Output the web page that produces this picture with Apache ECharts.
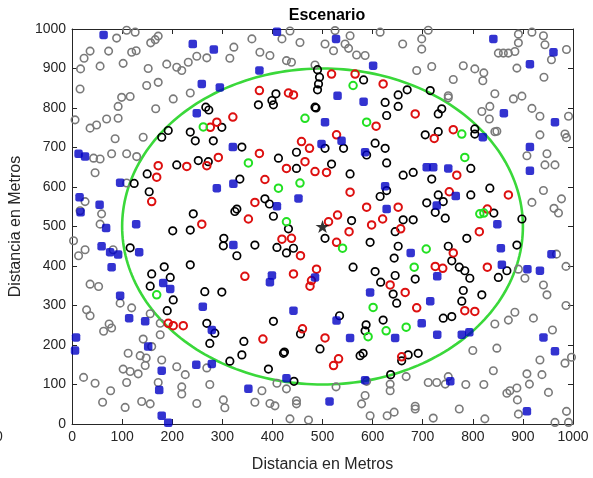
<!DOCTYPE html>
<html>
<head>
<meta charset="utf-8">
<script src="https://cdn.jsdelivr.net/npm/echarts@6/dist/echarts.min.js"></script>
<style>
html,body{margin:0;padding:0;background:#fff;}
#chart{width:593px;height:478px;}
</style>
</head>
<body>
<div id="chart"></div>
<script>
// ---- data ----
var titleText = "Escenario";
var xLabel = "Distancia en Metros";
var yLabel = "Distancia en Metros";
var axisMin = 0, axisMax = 1000, axisStep = 100;

var grayNodes = [
[109,997],[126,992],[89,977],[172,982],[166,973],[157,965],[36,944],[24,926],[73,944],[119,941],[128,945],[17,899],[56,906],[102,913],[152,900],[189,911],[209,903],[219,895],[232,916],[249,931],[269,927],[315,926],[323,954],[16,848],[172,865],[149,857],[99,827],[116,829],[92,804],[202,823],[236,838],[167,798],[6,770],[36,749],[49,757],[69,772],[92,774],[86,722],[142,726],[79,684],[109,684],[129,677],[43,673],[56,671],
[435,995],[359,975],[419,975],[455,966],[505,962],[525,996],[555,983],[545,962],[552,951],[568,934],[585,933],[522,945],[615,992],[375,941],[395,933],[428,920],[438,916],[485,909],
[711,997],[660,962],[698,975],[698,949],[688,895],[718,905],[781,907],[804,899],[822,889],[820,869],[761,872],[751,831],[751,826],[844,836],[881,823],[898,830],[834,804],[818,791],[833,772],[844,740],[848,741],[918,799],[934,779],[991,779],[984,734],[987,725],[934,732],[908,679],[948,684],[891,987],[918,992],[941,983],[944,960],[891,965],[884,943],[851,939],[861,939],[871,939],[987,948],[957,922],[888,901],[942,878],
[46,636],[26,563],[16,540],[59,532],[56,506],[3,464],[26,441],[13,426],[82,441],[36,354],[53,348],[109,610],
[944,656],[964,656],[941,591],[918,561],[977,570],[962,546],[971,534],[967,430],[986,399],[891,392],[904,369],[941,352],[948,327],
[29,289],[36,274],[96,306],[119,294],[74,253],[79,243],[63,235],[156,279],[176,255],[176,226],[142,215],[159,196],[112,179],[136,173],[148,167],[146,148],[116,133],[132,127],[102,139],[179,162],[209,145],[226,125],[219,94],[219,76],[23,118],[46,103],[77,84],[109,105],[61,55],[106,42],[139,57],[156,51],[172,105],[275,100],[249,52],[302,61],[305,41],[269,142],
[409,103],[428,89],[379,84],[365,55],[395,52],[405,46],[448,59],[448,51],[435,13],[472,10],[527,94],[585,72],[578,51],[595,21],[635,101],[635,84],[629,21],[643,30],[667,120],[588,108],
[884,283],[871,263],[844,253],[921,268],[986,300],[959,238],[997,169],[984,154],[934,162],[848,192],[800,186],[841,135],[908,127],[913,101],[938,125],[951,80],[888,91],[868,78],[874,84],[889,61],[711,105],[728,105],[745,101],[751,120],[786,100],[822,100],[773,38],[685,38],[685,45],[721,15],[824,13],[891,25],[964,4],[991,4],[987,32]
];

var blueNodes = [
[63,985],[241,962],[283,948],[259,861],[295,852],[249,787],[321,701],[13,684],[26,677],
[409,993],[527,975],[374,895],[601,907],[530,831],[582,816],[505,764],[498,709],[538,717],[585,688],
[841,975],[961,941],[914,911],[862,787],[964,764],[914,701],[820,726],
[96,611],[322,608],[289,597],[15,574],[17,536],[55,555],[68,496],[128,506],[59,450],[76,435],[92,429],[134,435],[79,397],[96,325],[322,453],[182,357],[196,342],
[452,571],[409,551],[625,602],[628,544],[399,376],[395,359],[485,371],[595,333],
[708,650],[721,650],[751,647],[914,641],[766,577],[728,553],[849,506],[856,445],[858,403],[676,433],[729,374],[957,430],[909,392],[934,388],
[8,219],[6,186],[114,268],[146,260],[152,196],[179,135],[174,86],[179,21],[192,3],[261,297],[279,238],[248,150],[279,152],
[442,287],[528,262],[555,218],[645,218],[428,116],[352,89],[514,57],[585,111],
[715,311],[698,255],[729,226],[778,226],[793,232],[941,219],[964,184],[755,108],[908,32]
];

var blackNodes = [
[267,802],[273,795],[299,751],[192,743],[179,726],[236,739],[246,717],[282,717],
[490,897],[494,878],[492,861],[490,846],[485,802],[487,800],[582,871],[407,836],[399,819],[402,808],[372,808],[651,833],[625,814],[651,804],[628,781],[339,701],[448,688],[412,673],[542,698],[605,711],[625,698],[588,681],[505,698],
[669,846],[715,844],[738,798],[731,785],[705,732],[731,740],[804,747],[804,734],
[124,609],[150,633],[154,588],[209,656],[252,667],[272,664],[242,532],[201,489],[236,491],[116,446],[303,470],[302,451],[325,538],[329,426],[184,398],[236,403],[159,380],[196,371],[156,349],[265,335],[299,334],
[518,658],[628,661],[335,620],[448,647],[555,633],[661,630],[385,570],[394,557],[402,526],[329,544],[615,576],[628,591],[558,515],[432,494],[365,453],[409,447],[428,433],[442,445],[505,470],[661,517],[645,487],[651,450],[643,420],[561,397],[605,386],[616,359],[645,376],[641,329],[595,460],
[681,637],[718,620],[796,647],[834,597],[796,580],[731,580],[708,560],[741,563],[725,536],[745,521],[681,517],[842,534],[898,519],[788,470],[751,450],[888,453],[758,413],[773,397],[784,388],[794,369],[868,388],[851,371],[685,367],[781,338],[818,327],
[202,314],[190,287],[269,255],[285,230],[275,204],[315,159],
[402,260],[534,274],[343,209],[339,175],[422,179],[424,182],[456,228],[495,190],[392,139],[443,108],[587,251],[585,236],[621,263],[575,173],[581,179],[648,306],[658,160],[636,125],
[778,311],[741,268],[758,272],[691,179],[671,175]
];

var redNodes = [
[276,751],[289,764],[321,777],[292,675],
[374,844],[432,838],[442,833],[518,886],[565,886],[621,861],[528,732],[607,754],[458,715],[474,698],[374,685],
[685,785],[761,745],[723,723],
[172,654],[169,625],[229,652],[269,654],[159,563],[259,506],
[465,664],[428,647],[485,639],[508,637],[385,619],[555,587],[365,561],[352,519],[588,549],[651,549],[512,512],[530,529],[553,487],[620,519],[598,504],[656,494],[528,460],[419,468],[438,470],[456,426],[488,392],[442,380],[345,374],[478,363],[475,349],[635,352],[665,333],
[768,630],[753,588],[871,580],[829,544],[813,487],[761,433],[725,399],[740,394],[829,397],
[192,255],[202,249],[222,249],
[381,215],[460,241],[505,218],[532,165],[522,148],[658,170],
[688,294],[784,287],[804,285]
];

var greenNodes = [
[262,752],[561,857],[465,774],[588,764],[778,734],[784,675],[169,327],
[352,661],[455,610],[412,597],[428,512],[540,445],
[814,532],[822,534],[707,443],[683,397],
[601,295],[627,236],[667,245],[591,221]
];

var centerNode = [[500,500]];
var coverage = [[500,500,400]]; // centre x, centre y, radius

// ---- chart ----
var FONT = "'Liberation Sans', Arial, sans-serif";
var AX = '#262626';
var chart = echarts.init(document.getElementById('chart'), null, {renderer:'canvas'});

function circleSeries(data, color, lw){
  return {
    type:'scatter', data:data, symbol:'circle', symbolSize:7.5,
    itemStyle:{color:'rgba(0,0,0,0)', borderColor:color, borderWidth:lw, opacity:1},
    emphasis:{disabled:true}, silent:true, z:3
  };
}

var star = 'path://M50,0 L61.8,36.2 L100,36.2 L69.1,58.8 L80.9,95.1 L50,72.7 L19.1,95.1 L30.9,58.8 L0,36.2 L38.2,36.2 Z';

var axisCommon = {
  type:'value', min:axisMin, max:axisMax, interval:axisStep,
  axisLine:{show:true, onZero:false, lineStyle:{color:AX, width:1}},
  axisTick:{show:true, inside:true, length:5, lineStyle:{color:AX}},
  splitLine:{show:false}
};

function plainLabel(v){ return String(v); }

chart.setOption({
  animation:false,
  backgroundColor:'#ffffff',
  title:{
    text:titleText, left:322, top:3, textAlign:'center',
    textStyle:{fontFamily:FONT, fontSize:16, fontWeight:'bold', color:'#000'}
  },
  grid:{left:72, right:20, top:29, bottom:53, containLabel:false},
  xAxis:[
    Object.assign({}, axisCommon, {
      position:'bottom', name:xLabel, nameLocation:'middle', nameGap:33,
      nameTextStyle:{fontFamily:FONT, fontSize:16, color:AX},
      axisLabel:{fontFamily:FONT, fontSize:14, color:AX, margin:6, formatter:plainLabel}
    }),
    Object.assign({}, axisCommon, {position:'top', axisLabel:{show:false}})
  ],
  yAxis:[
    Object.assign({}, axisCommon, {
      position:'left', name:yLabel, nameLocation:'middle', nameGap:44,
      nameTextStyle:{fontFamily:FONT, fontSize:16, color:AX},
      axisLabel:{fontFamily:FONT, fontSize:14, color:AX, margin:6, formatter:plainLabel}
    }),
    Object.assign({}, axisCommon, {position:'right', axisLabel:{show:false}})
  ],
  graphic:[{type:'text', left:-5, top:430, style:{text:'0', fontFamily:FONT, fontSize:14, fill:AX}}],
  series:[
    circleSeries(grayNodes, '#7a7a7a', 1.6),
    {
      type:'custom', data:coverage, z:2, silent:true,
      encode:{x:0, y:1},
      renderItem:function(params, api){
        var cx = api.value(0), cy = api.value(1), r = api.value(2);
        var pts = [];
        for (var i = 0; i <= 240; i++) {
          var t = i / 240 * 2 * Math.PI;
          pts.push(api.coord([cx + r * Math.cos(t), cy + r * Math.sin(t)]));
        }
        return {type:'polyline', shape:{points:pts}, style:{stroke:'#3ad83a', lineWidth:2.6, fill:null}};
      }
    },
    {
      type:'scatter', data:blueNodes, symbol:'roundRect', symbolSize:8.5,
      itemStyle:{color:'#0000c4'}, emphasis:{disabled:true}, silent:true, z:4
    },
    circleSeries(blackNodes, '#000000', 1.7),
    circleSeries(redNodes, '#dd1010', 2),
    circleSeries(greenNodes, '#22e022', 2),
    {
      type:'scatter', data:centerNode, symbol:star, symbolSize:[14,13],
      itemStyle:{color:'#000'}, emphasis:{disabled:true}, silent:true, z:6
    }
  ]
});
</script>
</body>
</html>
